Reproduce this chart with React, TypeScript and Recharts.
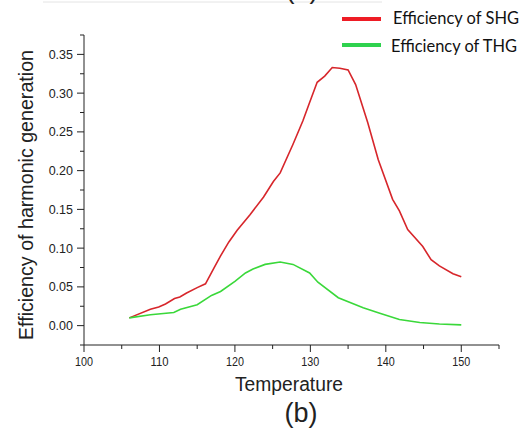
import React from 'react'
import { LineChart, Line, XAxis, YAxis } from 'recharts'

// values
const shgTemp = [106, 108.8, 109.9, 110.8, 112, 112.7, 113.6, 115, 116.1, 117.2, 118.1, 119.2, 120.3, 122, 123.8, 125.1, 126, 127.7, 129, 129.9, 130.9, 131.9, 132.9, 133.9, 135, 136, 137.6, 139, 140.9, 141.8, 142.9, 144.9, 146, 147.1, 148.9, 150]
const shgEff = [0.010, 0.021, 0.024, 0.028, 0.035, 0.037, 0.042, 0.049, 0.054, 0.074, 0.090, 0.108, 0.123, 0.143, 0.166, 0.186, 0.197, 0.234, 0.264, 0.288, 0.314, 0.322, 0.333, 0.332, 0.330, 0.311, 0.262, 0.214, 0.163, 0.148, 0.124, 0.102, 0.085, 0.077, 0.067, 0.063]

const thgTemp = [106, 108.8, 111.9, 112.8, 115, 116.9, 118.1, 120, 121.4, 122.4, 124, 126, 127.7, 129.9, 131, 133.7, 137, 139.2, 141.8, 144.5, 147.1, 150]
const thgEff = [0.010, 0.014, 0.017, 0.021, 0.027, 0.039, 0.044, 0.057, 0.068, 0.073, 0.079, 0.082, 0.079, 0.068, 0.056, 0.036, 0.023, 0.016, 0.008, 0.004, 0.002, 0.001]

const xTicks = [100, 105, 110, 115, 120, 125, 130, 135, 140, 145, 150, 155]
const xLabelled = [100, 110, 120, 130, 140, 150]
const yTicks = [-0.025, 0, 0.025, 0.05, 0.075, 0.1, 0.125, 0.15, 0.175, 0.2, 0.225, 0.25, 0.275, 0.3, 0.325, 0.35, 0.375]
const yLabelled = ['0.00', '0.05', '0.10', '0.15', '0.20', '0.25', '0.30', '0.35']

const shgData = shgTemp.map((t, i) => ({ t, v: shgEff[i] }))
const thgData = thgTemp.map((t, i) => ({ t, v: thgEff[i] }))

const AXIS = '#222'
const FONT = '"Liberation Sans", Arial, sans-serif'

function XTick({ x, y, payload }: any) {
  const major = xLabelled.includes(payload.value)
  return (
    <g>
      <line x1={x} x2={x} y1={y} y2={y + (major ? 7 : 4)} stroke={AXIS} />
      {major && (
        <text x={x} y={y + 21} textAnchor="middle" fontSize={13} fontFamily={FONT} fill={AXIS} textLength={18} lengthAdjust="spacingAndGlyphs">
          {payload.value}
        </text>
      )}
    </g>
  )
}

function YTick({ x, y, payload }: any) {
  const label = payload.value.toFixed(2)
  const major = yLabelled.includes(label)
  return (
    <g>
      <line x1={x - (major ? 7 : 4)} x2={x} y1={y} y2={y} stroke={AXIS} />
      {major && (
        <text x={x - 11} y={y + 4.5} textAnchor="end" fontSize={12.5} fontFamily={FONT} fill={AXIS}>
          {label}
        </text>
      )}
    </g>
  )
}

export default function App() {
  return (
    <div style={{ position: 'absolute', left: 0, top: 0, width: 532, height: 433, background: '#fff' }}>
      <LineChart width={532} height={433} margin={{ top: 35, right: 33, left: 0, bottom: 0 }}>
        <XAxis type="number" dataKey="t" domain={[100, 155]} ticks={xTicks} interval={0} allowDataOverflow
          height={88} tickSize={0} tickMargin={0} tick={<XTick />} axisLine={{ stroke: AXIS }} />
        <YAxis type="number" domain={[-0.025, 0.375]} ticks={yTicks} interval={0} allowDataOverflow
          width={84} tickSize={0} tickMargin={0} tick={<YTick />} axisLine={{ stroke: AXIS }} />
        <Line data={shgData} dataKey="v" type="linear" stroke="#d7262b" strokeWidth={1.6} dot={false} isAnimationActive={false} />
        <Line data={thgData} dataKey="v" type="linear" stroke="#3ad83a" strokeWidth={1.6} dot={false} isAnimationActive={false} />
      </LineChart>
      <svg width={532} height={433} style={{ position: 'absolute', left: 0, top: 0, pointerEvents: 'none' }}>
        <line x1={43} x2={382} y1={2} y2={2} stroke="#e4e4e4" />
        <text x={302} y={-2} textAnchor="middle" fontSize={27} fontFamily={FONT} fill={AXIS}>(a)</text>
        <line x1={342} x2={381} y1={19} y2={19} stroke="#ee1c25" strokeWidth={4} />
        <text x={393} y={23.5} fontSize={16.5} fontFamily="Lato, sans-serif" fill="#111" textLength={126} lengthAdjust="spacingAndGlyphs">Efficiency of SHG</text>
        <line x1={342} x2={381} y1={45} y2={45} stroke="#2ed24e" strokeWidth={4} />
        <text x={391} y={51.7} fontSize={16.5} fontFamily="Lato, sans-serif" fill="#111" textLength={126} lengthAdjust="spacingAndGlyphs">Efficiency of THG</text>
        <text transform="translate(33,195) rotate(-90)" textAnchor="middle" fontSize={20} fontFamily={FONT} fill={AXIS} textLength={290} lengthAdjust="spacingAndGlyphs">
          Efficiency of harmonic generation
        </text>
        <text x={289} y={391} textAnchor="middle" fontSize={20} fontFamily={FONT} fill={AXIS} textLength={108} lengthAdjust="spacingAndGlyphs">Temperature</text>
        <text x={301} y={422} textAnchor="middle" fontSize={27} fontFamily={FONT} fill={AXIS} textLength={33} lengthAdjust="spacingAndGlyphs">(b)</text>
      </svg>
    </div>
  )
}
